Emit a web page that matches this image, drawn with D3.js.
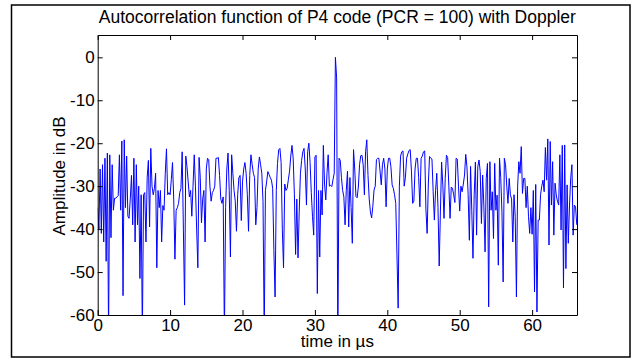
<!DOCTYPE html>
<meta charset="utf-8">
<style>
  body { margin: 0; background: #fff; }
  text { font-family: "Liberation Sans", Arial, Helvetica, sans-serif; fill: #000; }
</style>
<body>
<svg width="639" height="360"></svg>
<script src="https://d3js.org/d3.v7.min.js"></script>
<script>

// autocorrelation samples in dB, one every 1/6 µs starting at t = 0
var sampleStep = 1 / 6;
var amplitudeDb = [
  -35, -40, -26, -41, -25, -43, -23.5, -47.5, -22.3, -65,
  -22.7, -42, -25, -35.6, -32.8, -32.8, -32.5, -32.2, -22.7, -35.6,
  -19.5, -55.5, -19.2, -35, -23, -37, -37.5, -33, -27.5, -39,
  -23.5, -43, -25, -39, -30, -51.5, -32, -65, -32, -31.5,
  -43, -28, -24, -39.5, -21.2, -30, -32, -30.5, -27, -49,
  -31, -35, -31, -43, -34.5, -35.6, -27, -21.3, -32, -31.5,
  -32, -28.5, -24.5, -33, -47, -35.6, -35, -34, -31.5, -30.5,
  -22, -40, -57.7, -23, -25.5, -29, -32.5, -31, -37, -30,
  -22.7, -30, -40, -49, -23.3, -28, -38.5, -33, -31, -43,
  -26, -23.5, -23.8, -30, -33.5, -31.5, -31, -30, -23.5, -23.5,
  -23.3, -27.5, -33, -34, -32.5, -65, -35, -26, -22.3, -31,
  -46.5, -22.7, -27, -31, -33.5, -40.5, -32, -28, -27.5, -38,
  -29, -26, -24.5, -27, -32, -40.5, -27.5, -22.7, -25, -27,
  -28, -39, -35, -26, -23.2, -25, -27, -33.6, -65, -31,
  -29, -26.6, -27.3, -28, -28.6, -30.5, -45, -55.8, -31, -24.7,
  -21.5, -21.2, -24.5, -40, -49, -29.5, -31, -30.5, -28.5, -26.5,
  -23, -20.5, -23.5, -32, -45.9, -33, -46.7, -36, -27, -24,
  -22, -21.2, -26, -34.4, -22, -20, -24.5, -31.5, -37, -41.4,
  -23.2, -22.8, -55, -31, -46.5, -31, -36.7, -20.5, -29.5, -33.2,
  -27, -22.7, -30, -29.8, -30.1, -28.5, -27, 0, -4.8, -68,
  -23.5, -24, -28, -31, -32.5, -39, -31, -26.5, -39.5, -28,
  -35, -43.3, -21.5, -26, -32.4, -32.7, -30.2, -25, -22.9, -22.8,
  -25, -32, -22, -19.2, -27.5, -33, -36, -37.4, -34.7, -30.9,
  -30, -23.8, -23.5, -23.5, -26.5, -29.7, -25, -23.5, -26, -34.8,
  -26, -23.5, -23.5, -25.5, -29.7, -30.5, -32, -34, -46, -58.4,
  -30, -23, -22, -21.8, -30, -28, -23.5, -22.5, -21.7, -21.5,
  -26.5, -34, -33.5, -26, -23.5, -23.5, -28, -34.8, -23.5, -23,
  -22, -21.8, -35.5, -41, -29.5, -23.1, -23.5, -23.7, -31.3, -37.9,
  -31, -27, -35, -48.6, -36, -24.4, -29.7, -37.5, -28.2, -22.8,
  -23.3, -30, -37.5, -30.2, -30.5, -32, -33.8, -23.5, -23.7, -30,
  -35.8, -30, -31.3, -29.5, -27.4, -22.6, -25.5, -32, -42.6, -25.4,
  -35.6, -46.8, -32, -24.4, -41.4, -25.5, -23.9, -26.6, -38.7, -27.4,
  -34.4, -45.3, -28.2, -24.7, -58.1, -24.3, -35.6, -31.3, -42.2, -24.7,
  -35.6, -32.1, -48.4, -23.5, -28, -36, -52.3, -23.5, -25, -30,
  -34, -28.2, -32, -33, -43, -32, -37, -55.8, -30, -24.3,
  -27, -20.8, -31.7, -28.2, -28.2, -35, -30, -37, -41, -35,
  -41.2, -31, -54.6, -29.6, -59.3, -37.9, -37.9, -32, -30, -28.6,
  -31.3, -21, -28.6, -19, -43.7, -19.6, -34.4, -24.3, -41.4, -29.3,
  -32, -33.5, -34.4, -22.7, -40.2, -20.5, -53.7, -20.4, -49.2, -29.7,
  -43.3, -34.4, -28, -25, -41.4, -34.4, -34.8, -39
];

var xTicks = [0, 10, 20, 30, 40, 50, 60];
var yTicks = [-60, -50, -40, -30, -20, -10, 0];
var xLimits = [0, 66.2];
var yLimits = [-60, 5.2];

var titleText = "Autocorrelation function of P4 code (PCR = 100) with Doppler";
var xLabelText = "time in \u00b5s";
var yLabelText = "Amplitude in dB";

var svg = d3.select("svg");

// axes box in pixels
var boxLeft = 97.7, boxRight = 577, boxTop = 35, boxBottom = 315;

// outer figure frame
svg.append("rect")
    .attr("x", 11.5).attr("y", 5)
    .attr("width", 618.5).attr("height", 352)
    .attr("fill", "none")
    .attr("stroke", "#000")
    .attr("stroke-width", 1.5);

var x = d3.scaleLinear().domain(xLimits).range([boxLeft, boxRight]);
var y = d3.scaleLinear().domain(yLimits).range([boxBottom, boxTop]);

var points = amplitudeDb.map(function(v, i) { return { t: i * sampleStep, a: v }; });

svg.append("clipPath").attr("id", "plotArea")
  .append("rect")
    .attr("x", boxLeft).attr("y", boxTop)
    .attr("width", boxRight - boxLeft).attr("height", boxBottom - boxTop);

var line = d3.line()
    .x(function(d) { return x(d.t); })
    .y(function(d) { return y(d.a); });

svg.append("path")
    .datum(points)
    .attr("clip-path", "url(#plotArea)")
    .attr("fill", "none")
    .attr("stroke", "#0000ff")
    .attr("stroke-width", 1)
    .attr("d", line);

var fmt = function(d) { return String(d); };

function styleAxis(g) {
  g.attr("font-size", 17)
   .attr("font-family", "Liberation Sans, Arial, sans-serif");
  g.selectAll("path, line").attr("stroke", "#000").attr("stroke-width", 1);
  g.selectAll("text").attr("fill", "#000");
}

svg.append("g")
    .attr("transform", "translate(0," + boxBottom + ")")
    .call(d3.axisBottom(x).tickValues(xTicks).tickFormat(fmt).tickSizeInner(-5).tickSizeOuter(0).tickPadding(4))
    .call(styleAxis);

svg.append("g")
    .attr("transform", "translate(0," + boxTop + ")")
    .call(d3.axisTop(x).tickValues(xTicks).tickFormat("").tickSizeInner(-5).tickSizeOuter(0))
    .call(styleAxis);

svg.append("g")
    .attr("transform", "translate(" + boxLeft + ",0)")
    .call(d3.axisLeft(y).tickValues(yTicks).tickFormat(fmt).tickSizeInner(-5).tickSizeOuter(0).tickPadding(3))
    .call(styleAxis);

svg.append("g")
    .attr("transform", "translate(" + boxRight + ",0)")
    .call(d3.axisRight(y).tickValues(yTicks).tickFormat("").tickSizeInner(-5).tickSizeOuter(0))
    .call(styleAxis);

// title and axis labels
svg.append("text")
    .attr("x", (boxLeft + boxRight) / 2).attr("y", 23)
    .attr("text-anchor", "middle")
    .attr("font-size", 17.5)
    .text(titleText);

svg.append("text")
    .attr("x", (boxLeft + boxRight) / 2).attr("y", 347)
    .attr("text-anchor", "middle")
    .attr("font-size", 17)
    .text(xLabelText);

svg.append("text")
    .attr("transform", "translate(65,176) rotate(-90)")
    .attr("text-anchor", "middle")
    .attr("font-size", 17)
    .text(yLabelText);

</script>
</body>
